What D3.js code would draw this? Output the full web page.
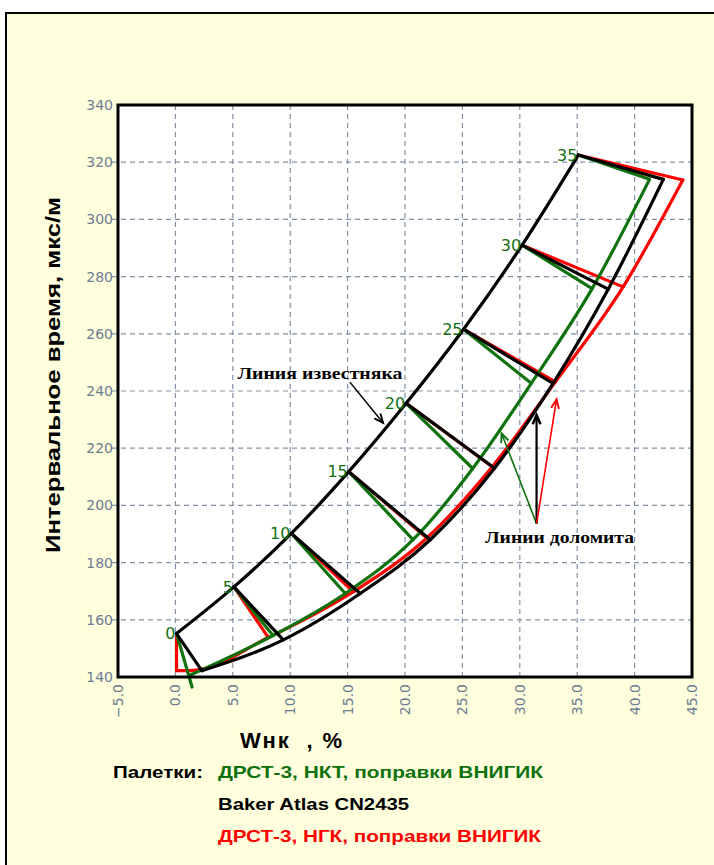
<!DOCTYPE html>
<html><head><meta charset="utf-8">
<script src="https://cdn.jsdelivr.net/npm/d3@7"></script>
<style>html,body{margin:0;padding:0;background:#fff;}svg{display:block;}</style>
</head><body>
<script>
// ---------- data ----------
const xTicks = [-5,0,5,10,15,20,25,30,35,40,45];
const yTicks = [140,160,180,200,220,240,260,280,300,320,340];
const porosity = [0,5,10,15,20,25,30,35];
// limestone line (common)
const limestone = [[0.1,155.2],[5.1,171.5],[10.1,190.2],[15.1,211.8],[20.1,235.7],[25.1,261.6],[30.2,291.0],[35.1,322.5]];
// dolomite tie-end points for each porosity
const blackDolomite = [[2.3,142.2],[9.4,153.0],[16.1,169.2],[22.2,188.0],[27.8,213.0],[32.9,242.7],[37.7,275.6],[42.5,314.0]];
const greenDolomite = [[1.45,136.5],[8.5,154.5],[14.8,169.2],[20.7,188.0],[25.9,212.9],[31.0,242.7],[36.3,275.8],[41.3,314.0]];
const redDolomite   = [[0.1,142.2],[8.1,153.8],[15.5,169.8],[21.9,188.6],[27.6,213.5],[33.1,243.2],[39.0,276.4],[44.2,313.8]];
// dolomite curves (with extra bend points)
const blackCurve = blackDolomite;
const greenCurve = [[1.25,140.6],[8.5,154.5],[14.8,169.2],[20.7,188.0],[25.9,212.9],[31.0,242.7],[36.3,275.8],[41.3,314.0]];
const redCurve   = [[0.1,142.2],[1.3,142.2],[8.1,153.8],[15.5,169.8],[21.9,188.6],[27.6,213.5],[33.1,243.2],[39.0,276.4],[44.2,313.8]];
// annotations
const limeArrow = [[15.2,243.1],[18.1,228.8]];
const limeText = [5.4,244.3];
const dolOrigin = [31.46,193.6];
const dolTips = [[28.41,225.2,"green"],[31.46,231.6,"black"],[33.2,237.1,"red"]];
const dolText = [26.97,186.9];
const legendItems = ["ДРСТ-3, НКТ, поправки ВНИГИК","Baker Atlas CN2435","ДРСТ-3, НГК, поправки ВНИГИК"];

const GREEN = "#0f720f", RED = "#ff0000", GRID = "#8391a6", TICK = "#6c7c92";

const W = 714, H = 865;
const svg = d3.select("body").append("svg").attr("width",W).attr("height",H);
svg.append("rect").attr("width",W).attr("height",H).attr("fill","#fff");
svg.append("rect").attr("x",6).attr("y",13).attr("width",W+10).attr("height",H+10)
  .attr("fill","#fffedd").attr("stroke","#000").attr("stroke-width",2);

const x = d3.scaleLinear().domain([-5,45]).range([118,692]);
const y = d3.scaleLinear().domain([140,340]).range([677,105]);

svg.append("rect").attr("x",x(-5)).attr("y",y(340)).attr("width",x(45)-x(-5)).attr("height",y(140)-y(340)).attr("fill","#fff");

// grid
const g = svg.append("g");
g.selectAll(".vg").data(xTicks.filter(d=>d>-5&&d<45)).join("line")
  .attr("x1",d=>x(d)).attr("x2",d=>x(d)).attr("y1",y(340)).attr("y2",y(140))
  .attr("stroke",GRID).attr("stroke-width",1.2).attr("stroke-dasharray","5,4");
g.selectAll(".hg").data(yTicks.filter(d=>d>140&&d<340)).join("line")
  .attr("x1",x(-5)-6).attr("x2",x(45)).attr("y1",d=>y(d)).attr("y2",d=>y(d))
  .attr("stroke",GRID).attr("stroke-width",1.2).attr("stroke-dasharray","5,4");

// axes labels
const tf = "DejaVu Sans, Verdana, sans-serif";
svg.selectAll(".yl").data(yTicks).join("text")
  .attr("x",x(-5)-5).attr("y",d=>y(d)).attr("dy","0.35em").attr("text-anchor","end")
  .attr("font-family",tf).attr("font-size",14).attr("fill",TICK)
  .text(d=>d);
svg.selectAll(".xl").data(xTicks).join("text")
  .attr("transform",d=>`translate(${x(d)},${y(140)+7}) rotate(-90)`)
  .attr("dy","0.35em").attr("text-anchor","end")
  .attr("font-family",tf).attr("font-size",14).attr("fill",TICK)
  .text(d=>(d<0?"\u2212":"")+Math.abs(d).toFixed(1));

const line = d3.line().x(d=>x(d[0])).y(d=>y(d[1]));
const smooth = d3.line().x(d=>x(d[0])).y(d=>y(d[1])).curve(d3.curveMonotoneX);
const plot = svg.append("g").attr("fill","none").attr("stroke-linejoin","round").attr("stroke-linecap","round");

function palette(curve, ties, color){
  plot.append("path").attr("d",smooth(curve)).attr("stroke",color).attr("stroke-width",3.2);
  porosity.forEach((p,i)=>{
    plot.append("path").attr("d",line([limestone[i],ties[i]])).attr("stroke",color).attr("stroke-width",3.2);
  });
}
palette(redCurve, redDolomite, RED);
palette(greenCurve, greenDolomite, GREEN);
palette(blackCurve, blackDolomite, "#000");
plot.append("path").attr("d",smooth(limestone)).attr("stroke","#000").attr("stroke-width",3.2);

// porosity labels
svg.selectAll(".pl").data(porosity).join("text")
  .attr("x",(d,i)=>x(limestone[i][0])-1).attr("y",(d,i)=>y(limestone[i][1])).attr("dy","0.35em")
  .attr("text-anchor","end").attr("font-family",tf)
  .attr("font-size",16).attr("fill",GREEN).text(d=>d);

// plot border
svg.append("rect").attr("x",x(-5)).attr("y",y(340)).attr("width",x(45)-x(-5)).attr("height",y(140)-y(340))
  .attr("fill","none").attr("stroke","#000").attr("stroke-width",3);

// arrows
function arrow(from,to,color,w){
  const x1=x(from[0]),y1=y(from[1]),x2=x(to[0]),y2=y(to[1]);
  const a=Math.atan2(y2-y1,x2-x1), L=10, s=0.4;
  svg.append("line").attr("x1",x1).attr("y1",y1).attr("x2",x2).attr("y2",y2).attr("stroke",color).attr("stroke-width",w);
  svg.append("path").attr("d",`M${x2-L*Math.cos(a-s)},${y2-L*Math.sin(a-s)}L${x2},${y2}L${x2-L*Math.cos(a+s)},${y2-L*Math.sin(a+s)}`)
    .attr("fill","none").attr("stroke",color).attr("stroke-width",w+0.3);
}
arrow(limeArrow[0],limeArrow[1],"#000",1.5);
dolTips.forEach(t=>arrow(dolOrigin,[t[0],t[1]],t[2]==="green"?GREEN:(t[2]==="red"?RED:"#000"),t[2]==="black"?2.2:1.6));

svg.append("text").attr("x",x(limeText[0])).attr("y",y(limeText[1]))
  .attr("font-family","Liberation Serif, Times New Roman, serif").attr("font-weight","bold").attr("font-size",17)
  .attr("textLength",165).attr("lengthAdjust","spacingAndGlyphs").text("Линия известняка");
svg.append("text").attr("x",x(dolText[0])).attr("y",y(dolText[1]))
  .attr("font-family","Liberation Serif, Times New Roman, serif").attr("font-weight","bold").attr("font-size",17)
  .attr("textLength",149).attr("lengthAdjust","spacingAndGlyphs").text("Линии доломита");

// axis titles
svg.append("text").attr("transform","translate(53,375) rotate(-90)").attr("text-anchor","middle").attr("dy","0.35em")
  .attr("font-family","Liberation Sans, Arial, sans-serif").attr("font-weight","bold").attr("font-size",21)
  .attr("textLength",356).attr("lengthAdjust","spacingAndGlyphs").text("Интервальное время, мкс/м");
svg.append("text").attr("x",240).attr("y",740).attr("dy","0.35em")
  .attr("font-family","Liberation Sans, Arial, sans-serif").attr("font-weight","bold").attr("font-size",22)
  .attr("textLength",102).attr("lengthAdjust","spacing")
  .attr("xml:space","preserve").text("Wнк  , %");

// legend
const lf = "Liberation Sans, Arial, sans-serif";
svg.append("text").attr("x",113).attr("y",772).attr("dy","0.35em").attr("font-family",lf).attr("font-weight","bold")
  .attr("font-size",17).attr("textLength",90).attr("lengthAdjust","spacingAndGlyphs").text("Палетки:");
const lc = [GREEN,"#000",RED], lw=[325,191,323], ly=[772,804,836];
legendItems.forEach((t,i)=>{
  svg.append("text").attr("x",218).attr("y",ly[i]).attr("dy","0.35em").attr("font-family",lf).attr("font-weight","bold")
    .attr("font-size",17).attr("fill",lc[i]).attr("textLength",lw[i]).attr("lengthAdjust","spacingAndGlyphs").text(t);
});
</script>
</body></html>
